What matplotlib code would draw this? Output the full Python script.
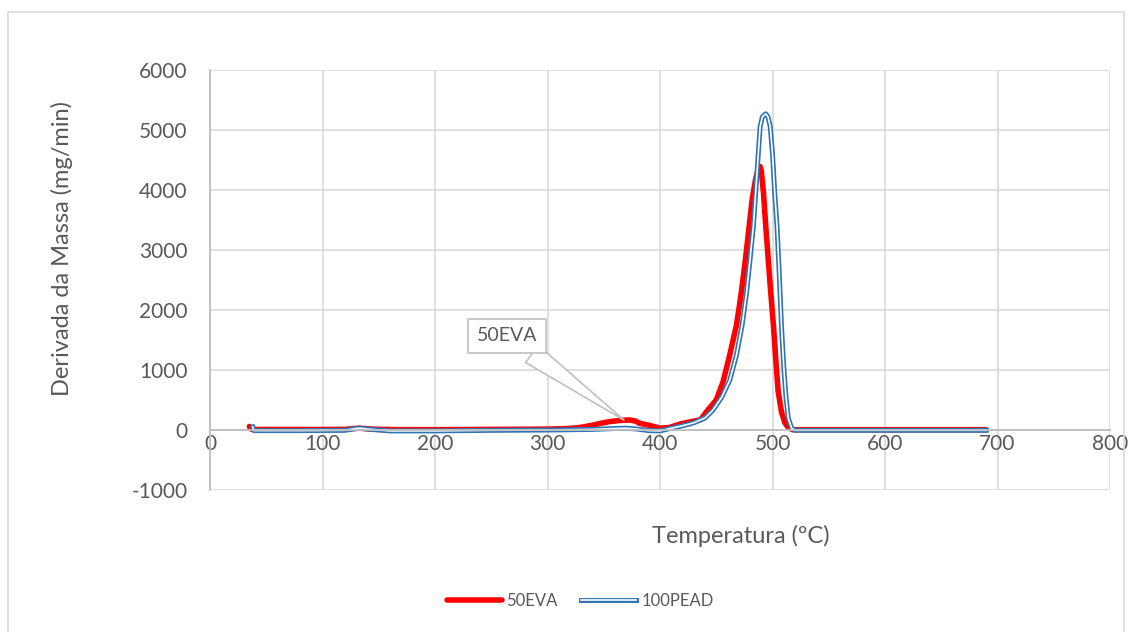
import matplotlib.pyplot as plt
import matplotlib.patheffects as pe
from matplotlib.patches import Rectangle

plt.rcParams['font.family'] = ['Lato', 'DejaVu Sans']
plt.rcParams['axes.unicode_minus'] = False

# 50EVA
eva_t = [35, 36, 38, 45, 60, 80, 100, 120, 128, 133, 140, 150, 170, 200, 250, 300,
         320, 330, 340, 347, 355, 365, 373, 378, 382, 390, 400, 408, 418, 428, 436,
         442, 450, 456, 462, 468, 472, 476, 479, 482, 485, 487, 489, 490, 492, 494,
         496, 498, 501, 503, 505, 508, 511, 514, 518, 540, 600, 690]
eva_v = [60, 20, 10, 8, 8, 8, 8, 10, 25, 30, 20, 10, 5, 5, 10, 15,
         25, 45, 80, 110, 140, 160, 167, 150, 111, 80, 30, 40, 100, 140, 170,
         320, 500, 800, 1250, 1750, 2250, 2850, 3350, 3850, 4180, 4320, 4390, 4320, 3950, 3400,
         2900, 2400, 1700, 1150, 650, 300, 120, 40, 5, 5, 5, 5]

# 100PEAD
pead_t = [38, 39, 41, 50, 80, 120, 128, 133, 140, 160, 200, 250, 300, 340, 360, 370,
          380, 390, 400, 410, 420, 430, 440, 447, 455, 462, 468, 473, 477, 480, 483,
          485, 487, 489, 491, 494, 496, 498, 500, 502, 504, 506, 508, 510, 512, 514,
          517, 520, 550, 690]
pead_v = [50, -10, -10, -10, -10, -5, 20, 30, 15, -15, -15, -5, 0, 10, 25, 30,
          15, -10, -15, 30, 70, 120, 200, 330, 550, 830, 1250, 1750, 2300, 2833, 3400,
          3944, 4500, 5055, 5220, 5270, 5220, 5055, 4600, 3944, 3400, 2600, 1722, 1050, 550, 200,
          30, -5, -5, -5]

xticks = [0, 100, 200, 300, 400, 500, 600, 700, 800]
yticks = [-1000, 0, 1000, 2000, 3000, 4000, 5000, 6000]

txt = '#595959'

fig = plt.figure(figsize=(11.32, 6.32), dpi=100)
fig.patches.append(Rectangle((8 / 1132, -0.01), 1116 / 1132, 1 - 12 / 632 + 0.01,
                             transform=fig.transFigure, fill=False,
                             ec='#D9D9D9', lw=1.2))
ax = fig.add_axes([210 / 1132, 1 - 490 / 632, 900 / 1132, 420 / 632])

ax.plot(eva_t, eva_v, color='#FF0000', lw=4, label='50EVA', solid_capstyle='round')
ax.plot(pead_t, pead_v, color='white', lw=1.2, label='100PEAD',
        path_effects=[pe.Stroke(linewidth=3.6, foreground='#2E75B6'), pe.Normal()])

ax.set_xlim(0, 800)
ax.set_ylim(-1000, 6000)
ax.set_xticks(xticks)
ax.set_yticks(yticks)
ax.grid(True, color='#D9D9D9', lw=1.2)
ax.set_axisbelow(True)
for s in ['top', 'right']:
    ax.spines[s].set_visible(False)
ax.spines['bottom'].set_position(('data', 0))
ax.spines['bottom'].set_color('#BFBFBF')
ax.spines['left'].set_color('#BFBFBF')
ax.spines['bottom'].set_linewidth(1.3)
ax.spines['left'].set_linewidth(1.3)
ax.tick_params(length=0, labelsize=15, labelcolor=txt)
ax.tick_params(axis='y', pad=16)
ax.tick_params(axis='x', pad=3)

ax.annotate('50EVA', xy=(368, 165), xytext=(264, 1567), fontsize=14, color=txt,
            ha='center', va='center',
            bbox=dict(boxstyle='square,pad=0.45', fc='white', ec='#BFBFBF', lw=1.2),
            arrowprops=dict(arrowstyle='wedge,tail_width=1.1', fc='white',
                            ec='#BFBFBF', lw=1.2, shrinkA=0, shrinkB=0))

fig.text(741 / 1132, 1 - 536 / 632, 'Temperatura (ºC)', fontsize=17, color=txt,
         ha='center', va='center')
fig.text(62 / 1132, 1 - 248 / 632, 'Derivada da Massa (mg/min)', fontsize=17,
         color=txt, ha='center', va='center', rotation=90)

fig.legend(loc='center', bbox_to_anchor=(580 / 1132, 1 - 601 / 632), ncol=2,
           frameon=False, fontsize=12, labelcolor=txt, handlelength=3.3,
           handletextpad=0.3, columnspacing=1.4)

plt.savefig('out.png')
